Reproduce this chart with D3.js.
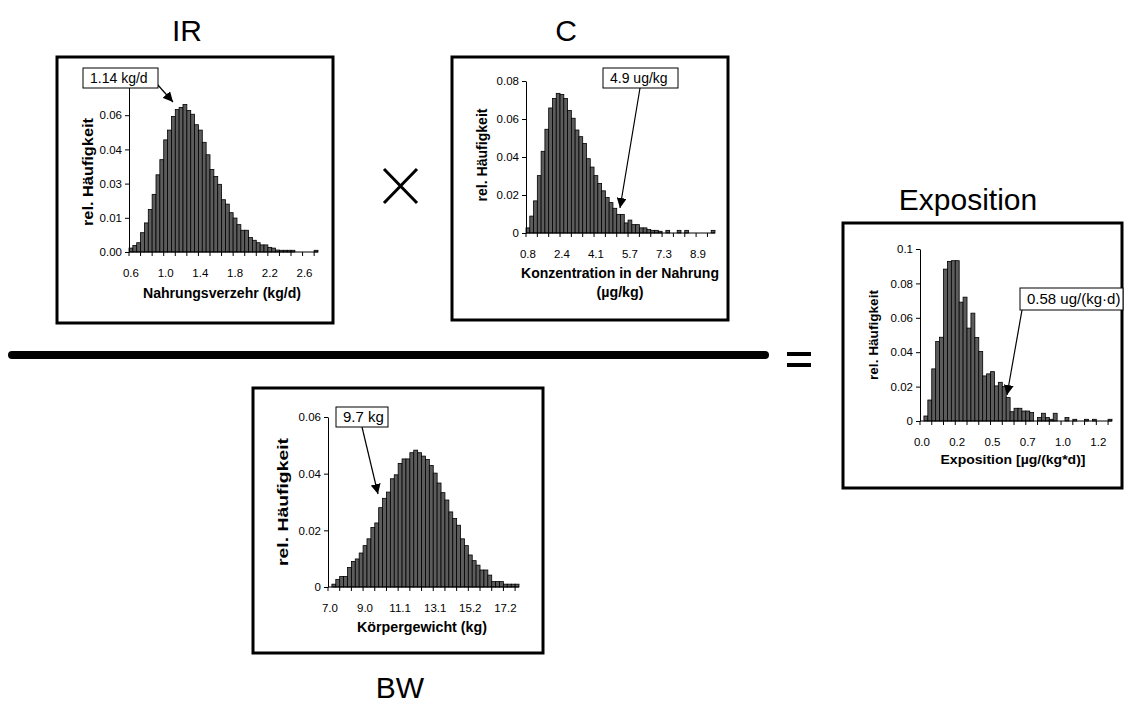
<!DOCTYPE html>
<html>
<head>
<meta charset="utf-8">
<script src="https://cdn.jsdelivr.net/npm/d3@7"></script>
<style>
body { margin: 0; background: #fff; }
text { font-family: Arial, "Liberation Sans", sans-serif; fill: #000; }
</style>
</head>
<body>
<div id="chart"></div>
<script>
// relative frequencies per class
var irFreq = [0.0016,0.0027,0.0038,0.0079,0.0119,0.0174,0.0236,0.0316,0.0378,0.0459,
              0.0499,0.0555,0.0583,0.0592,0.0604,0.0579,0.0564,0.0521,0.0499,0.0449,
              0.0398,0.0338,0.0309,0.0277,0.0214,0.0196,0.0161,0.0139,0.0112,0.0089,
              0.0089,0.0059,0.0048,0.0038,0.0029,0.0029,0.0019,0.0016,0.0008,0.0007,
              0.0007,0.0007,0.0007,0,0,0,0,0,0.0007];
var irLabels = ["0.6","1.0","1.4","1.8","2.2","2.6"];
var irYTicks = [0, 0.014, 0.028, 0.042, 0.056];

var cFreq = [0.0027,0.0089,0.0169,0.0302,0.043,0.0546,0.0658,0.0708,0.0735,0.0729,
             0.0708,0.0645,0.0604,0.0542,0.0507,0.0471,0.0391,0.0347,0.0302,0.0261,
             0.0222,0.0187,0.016,0.013,0.0098,0.0098,0.0053,0.0068,0.0044,0.0044,
             0.0027,0.0027,0.0018,0.0014,0.0014,0.0009,0,0.0014,0,0,
             0.0014,0,0.0014,0,0,0,0,0,0,0.0014];
var cLabels = ["0.8","2.4","4.1","5.7","7.3","8.9"];
var cYTicks = [0, 0.02, 0.04, 0.06, 0.08];

var bwFreq = [0,0.001,0.0027,0.0037,0.0037,0.0069,0.009,0.0099,0.012,0.0146,
              0.017,0.021,0.0226,0.028,0.0313,0.0335,0.0382,0.0396,0.0436,0.0452,
              0.0452,0.0474,0.0483,0.0474,0.0462,0.045,0.0429,0.0402,0.0367,0.0333,
              0.0307,0.0265,0.0242,0.0218,0.017,0.0146,0.0113,0.0093,0.0077,0.006,
              0.006,0.0042,0.0019,0.0019,0.0019,0.001,0.001,0.001,0.001];
var bwLabels = ["7.0","9.0","11.1","13.1","15.2","17.2"];
var bwYTicks = [0, 0.02, 0.04, 0.06];

var expFreq = [0,0.0029,0.0122,0.0303,0.0462,0.0487,0.0883,0.0928,0.0932,0.0932,
               0.0691,0.072,0.054,0.0627,0.0485,0.0404,0.0262,0.0274,0.0287,0.0204,
               0.0225,0.02,0.0136,0.0054,0.0074,0.0074,0.0058,0.0058,0.0049,0,
               0.002,0.0045,0.002,0.001,0.0045,0,0,0.002,0,0.001,
               0,0,0.001,0,0.001,0,0,0,0.001];
var expLabels = ["0.0","0.2","0.5","0.7","1.0","1.2"];
var expYTicks = [0, 0.02, 0.04, 0.06, 0.08, 0.1];

var W = 1124, H = 705;
var LABEL_EVERY = 9, TICK_EVERY = 3;

var svg = d3.select("#chart").append("svg")
    .attr("width", W)
    .attr("height", H);

svg.append("defs").append("marker")
    .attr("id", "arrow")
    .attr("viewBox", "0 0 10 10")
    .attr("refX", 10).attr("refY", 5)
    .attr("markerWidth", 10).attr("markerHeight", 10)
    .attr("markerUnits", "userSpaceOnUse")
    .attr("orient", "auto")
  .append("path")
    .attr("d", "M0,0 L10,5 L0,10 Z")
    .attr("fill", "#000");

function drawPanel(p) {
    var g = svg.append("g");

    // frame
    g.append("rect")
        .attr("x", p.box[0]).attr("y", p.box[1])
        .attr("width", p.box[2] - p.box[0])
        .attr("height", p.box[3] - p.box[1])
        .attr("fill", "#fff")
        .attr("stroke", "#000")
        .attr("stroke-width", 3);

    var x = d3.scaleBand()
        .domain(d3.range(p.freq.length))
        .range([p.x0, p.x1])
        .padding(0);
    var y = d3.scaleLinear()
        .domain([0, p.yMax])
        .range([p.base, p.top]);

    // keep the class index with each value so empty classes leave a gap
    var cls = p.freq.map(function(v, i){ return {i: i, v: v}; })
        .filter(function(d){ return d.v > 0; });

    g.selectAll(".bar").data(cls).enter()
      .append("rect")
        .attr("class", "bar")
        .attr("x", function(d){ return x(d.i); })
        .attr("y", function(d){ return y(d.v); })
        .attr("width", x.bandwidth())
        .attr("height", function(d){ return p.base - y(d.v); })
        .attr("fill", "#5c5c5c")
        .attr("stroke", "#000")
        .attr("stroke-width", 0.8);

    // y axis
    var yAxis = d3.axisLeft(y)
        .tickValues(p.yTicks)
        .tickFormat(d3.format(p.yFormat))
        .tickSize(4)
        .tickSizeOuter(0)
        .tickPadding(3);
    var ya = g.append("g")
        .attr("transform", "translate(" + p.x0 + ",0)")
        .call(yAxis);
    ya.selectAll("text").style("font-size", p.tickFont + "px").style("font-family", null);
    ya.select(".domain").attr("stroke", "#000");

    // x axis line + tick marks between classes
    g.append("line")
        .attr("x1", p.x0).attr("x2", p.x1)
        .attr("y1", p.base).attr("y2", p.base)
        .attr("stroke", "#000");
    g.selectAll(".xtick").data(d3.range(0, p.freq.length + 1, TICK_EVERY)).enter()
      .append("line")
        .attr("class", "xtick")
        .attr("x1", function(i){ return p.x0 + i * x.bandwidth(); })
        .attr("x2", function(i){ return p.x0 + i * x.bandwidth(); })
        .attr("y1", p.base).attr("y2", p.base + 4)
        .attr("stroke", "#000");

    // class labels every 9th class
    var xAxis = d3.axisBottom(x)
        .tickValues(p.labels.map(function(l, k){ return k * LABEL_EVERY; }))
        .tickFormat(function(i){ return p.labels[i / LABEL_EVERY]; })
        .tickSize(0)
        .tickPadding(p.labelPad);
    var xa = g.append("g")
        .attr("transform", "translate(0," + p.base + ")")
        .call(xAxis);
    xa.select(".domain").remove();
    xa.selectAll("text").style("font-size", p.tickFont + "px").style("font-family", null);

    // axis titles
    g.append("text")
        .attr("transform", "translate(" + p.yTitle[0] + "," + p.yTitle[1] + ") rotate(-90)")
        .attr("text-anchor", "middle")
        .attr("dy", "0.35em")
        .attr("font-weight", "bold")
        .attr("font-size", p.titleFont)
        .attr("textLength", p.yTitleLen)
        .attr("lengthAdjust", "spacingAndGlyphs")
        .text("rel. Häufigkeit");

    p.xTitle.forEach(function(t){
        g.append("text")
            .attr("x", t.x).attr("y", t.y)
            .attr("text-anchor", "middle")
            .attr("font-weight", "bold")
            .attr("font-size", p.titleFont)
            .attr("textLength", t.len)
            .attr("lengthAdjust", "spacingAndGlyphs")
            .text(t.text);
    });

    // annotation box + arrow
    var a = p.note;
    g.append("line")
        .attr("x1", a.from[0]).attr("y1", a.from[1])
        .attr("x2", a.to[0]).attr("y2", a.to[1])
        .attr("stroke", "#000")
        .attr("stroke-width", 1.2)
        .attr("marker-end", "url(#arrow)");
    g.append("rect")
        .attr("x", a.box[0]).attr("y", a.box[1])
        .attr("width", a.box[2] - a.box[0])
        .attr("height", a.box[3] - a.box[1])
        .attr("fill", "#fff")
        .attr("stroke", "#000")
        .attr("stroke-width", 1);
    g.append("text")
        .attr("x", a.box[0] + 7)
        .attr("y", (a.box[1] + a.box[3]) / 2)
        .attr("dy", "0.36em")
        .attr("font-size", a.font)
        .text(a.text);
}

drawPanel({
    freq: irFreq, labels: irLabels, yTicks: irYTicks, yFormat: ".2f",
    box: [57, 57, 333, 323], x0: 129, x1: 318, base: 252, top: 81, yMax: 0.07,
    tickFont: 11.5, labelPad: 17, titleFont: 14,
    yTitle: [88, 172], yTitleLen: 108,
    xTitle: [{text: "Nahrungsverzehr (kg/d)", x: 222, y: 298, len: 158}],
    note: {text: "1.14 kg/d", box: [83, 68, 158, 88], from: [157, 84], to: [173, 102], font: 14}
});

drawPanel({
    freq: cFreq, labels: cLabels, yTicks: cYTicks, yFormat: "~g",
    box: [452, 57, 728, 320], x0: 526, x1: 715, base: 233, top: 81, yMax: 0.08,
    tickFont: 11.5, labelPad: 17, titleFont: 14,
    yTitle: [482, 155], yTitleLen: 93,
    xTitle: [{text: "Konzentration in der Nahrung", x: 620, y: 278, len: 198},
             {text: "(\u00b5g/kg)", x: 620, y: 297, len: 47}],
    note: {text: "4.9 ug/kg", box: [603, 68, 678, 88], from: [640, 88], to: [620, 208], font: 14}
});

drawPanel({
    freq: expFreq, labels: expLabels, yTicks: expYTicks, yFormat: "~g",
    box: [843, 223, 1122, 488], x0: 920, x1: 1112, base: 421, top: 249, yMax: 0.1,
    tickFont: 11.5, labelPad: 17, titleFont: 13,
    yTitle: [873, 335], yTitleLen: 90,
    xTitle: [{text: "Exposition [\u00b5g/(kg*d)]", x: 1013, y: 464, len: 145}],
    note: {text: "0.58 ug/(kg\u00b7d)", box: [1020, 288, 1123, 310], from: [1022, 310], to: [1007, 395], font: 15}
});

drawPanel({
    freq: bwFreq, labels: bwLabels, yTicks: bwYTicks, yFormat: "~g",
    box: [253, 388, 543, 653], x0: 328, x1: 519, base: 587, top: 417, yMax: 0.06,
    tickFont: 11.5, labelPad: 17, titleFont: 14,
    yTitle: [283, 502], yTitleLen: 128,
    xTitle: [{text: "K\u00f6rpergewicht (kg)", x: 422, y: 632, len: 130}],
    note: {text: "9.7 kg", box: [336, 407, 388, 427], from: [362, 427], to: [378, 494], font: 15}
});

// big labels
var bigTitles = [
    {text: "IR", x: 187, y: 41},
    {text: "C", x: 566, y: 41},
    {text: "Exposition", x: 968, y: 210},
    {text: "BW", x: 400, y: 698}
];
svg.selectAll(".big").data(bigTitles).enter()
  .append("text")
    .attr("class", "big")
    .attr("x", function(d){ return d.x; })
    .attr("y", function(d){ return d.y; })
    .attr("text-anchor", "middle")
    .attr("font-size", 30)
    .text(function(d){ return d.text; });

// multiplication sign
svg.append("path")
    .attr("d", "M384,169 L417,203 M417,169 L384,203")
    .attr("stroke", "#000")
    .attr("stroke-width", 3)
    .attr("fill", "none");

// fraction bar
svg.append("line")
    .attr("x1", 12).attr("x2", 765)
    .attr("y1", 355).attr("y2", 355)
    .attr("stroke", "#000")
    .attr("stroke-width", 8)
    .attr("stroke-linecap", "round");

// equals sign
svg.append("path")
    .attr("d", "M787,354 H811 M787,365 H811")
    .attr("stroke", "#000")
    .attr("stroke-width", 4);
</script>
</body>
</html>
